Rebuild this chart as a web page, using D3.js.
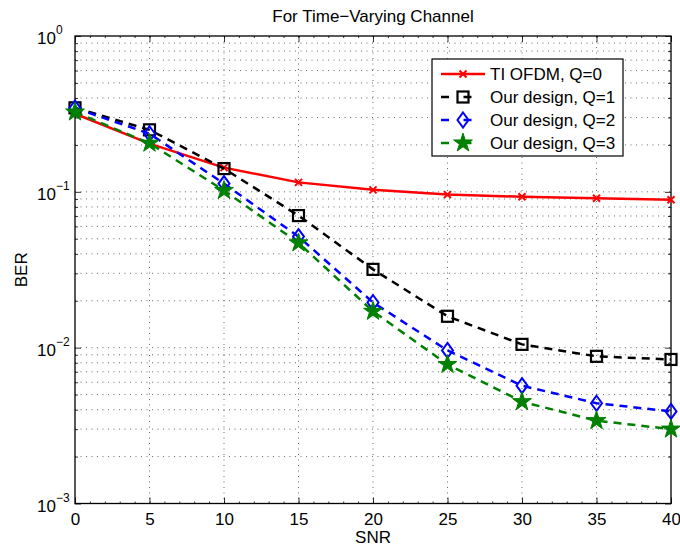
<!DOCTYPE html>
<html>
<head>
<meta charset="utf-8">
<script src="https://cdn.jsdelivr.net/npm/d3@7"></script>
<style>
  body { margin: 0; background: #fff; }
  svg { font-family: "Liberation Sans", Arial, sans-serif; }
</style>
</head>
<body>
<script>
// data
var snr = [0, 5, 10, 15, 20, 25, 30, 35, 40];
var berQ0 = [0.317, 0.204, 0.143, 0.115, 0.103, 0.096, 0.093, 0.091, 0.089];
var berQ1 = [0.346, 0.25, 0.141, 0.0704, 0.0318, 0.0159, 0.0105, 0.0088, 0.0084];
var berQ2 = [0.345, 0.236, 0.113, 0.0516, 0.0195, 0.0096, 0.0057, 0.0044, 0.0039];
var berQ3 = [0.325, 0.205, 0.102, 0.047, 0.0171, 0.0078, 0.0045, 0.0034, 0.0030];
var seriesNames = ["TI OFDM, Q=0", "Our design, Q=1", "Our design, Q=2", "Our design, Q=3"];
var xTicks = [0, 5, 10, 15, 20, 25, 30, 35, 40];
var yTickExp = [0, -1, -2, -3];

var W = 680, H = 548;
var margin = { top: 36, right: 9, bottom: 44.5, left: 75 },
    width = W - margin.left - margin.right,
    height = H - margin.top - margin.bottom;

var x = d3.scaleLinear().domain([0, 40]).range([0, width]);
var y = d3.scaleLog().domain([1e-3, 1]).range([height, 0]);

var svg = d3.select("body").append("svg")
    .attr("width", W)
    .attr("height", H);

var g = svg.append("g")
    .attr("transform", "translate(" + margin.left + "," + margin.top + ")");

// minor log values
var yMinor = [];
[1e-3, 1e-2, 1e-1].forEach(function (d) {
    for (var k = 2; k <= 9; k++) yMinor.push(d * k);
});
var yMajor = yTickExp.map(function (e) { return Math.pow(10, e); });

// grid
var grid = g.append("g").attr("stroke", "#444").attr("stroke-width", 0.8)
    .attr("stroke-dasharray", "1,4.5");
grid.selectAll(".gy")
    .data(yMajor.concat(yMinor).filter(function (d) { return d > 1e-3 && d < 1; }))
    .enter().append("line")
    .attr("x1", 0).attr("x2", width)
    .attr("y1", function (d) { return y(d); })
    .attr("y2", function (d) { return y(d); });
grid.selectAll(".gx")
    .data(xTicks.filter(function (d) { return d > 0 && d < 40; }))
    .enter().append("line")
    .attr("y1", 0).attr("y2", height)
    .attr("x1", function (d) { return x(d); })
    .attr("x2", function (d) { return x(d); });

// axes (inward ticks, box on)
var xMinor = d3.range(0, 41, 1);
g.append("g")
    .attr("transform", "translate(0," + height + ")")
    .call(d3.axisBottom(x).tickValues(xMinor).tickSize(-2).tickFormat(""))
    .call(function (a) { a.select(".domain").remove(); });
g.append("g")
    .call(d3.axisTop(x).tickValues(xMinor).tickSize(-2).tickFormat(""))
    .call(function (a) { a.select(".domain").remove(); });
g.append("g")
    .attr("transform", "translate(0," + height + ")")
    .call(d3.axisBottom(x).tickValues(xTicks).tickSize(-6).tickPadding(9))
    .call(function (a) {
        a.select(".domain").remove();
        a.selectAll("text").attr("font-size", 17).attr("fill", "#000")
            .attr("font-family", "Liberation Sans, Arial, sans-serif");
    });
g.append("g")
    .call(d3.axisTop(x).tickValues(xTicks).tickSize(-6).tickFormat(""))
    .call(function (a) { a.select(".domain").remove(); });

g.append("g")
    .call(d3.axisLeft(y).tickValues(yMinor).tickSize(-3).tickFormat(""))
    .call(function (a) { a.select(".domain").remove(); });
g.append("g")
    .attr("transform", "translate(" + width + ",0)")
    .call(d3.axisRight(y).tickValues(yMinor).tickSize(-3).tickFormat(""))
    .call(function (a) { a.select(".domain").remove(); });
var yAx = g.append("g")
    .call(d3.axisLeft(y).tickValues(yMajor).tickSize(-6).tickFormat(""))
    .call(function (a) { a.select(".domain").remove(); });
g.append("g")
    .attr("transform", "translate(" + width + ",0)")
    .call(d3.axisRight(y).tickValues(yMajor).tickSize(-6).tickFormat(""))
    .call(function (a) { a.select(".domain").remove(); });

// y tick labels 10^e
yAx.selectAll(".ylab")
    .data(yTickExp)
    .enter().append("text")
    .attr("x", -19)
    .attr("y", function (e) { return y(Math.pow(10, e)) + 8; })
    .attr("text-anchor", "end")
    .attr("font-size", 17)
    .attr("fill", "#000")
    .attr("font-family", "Liberation Sans, Arial, sans-serif")
    .text("10");
yAx.selectAll(".yexp")
    .data(yTickExp)
    .enter().append("text")
    .attr("x", -19)
    .attr("y", function (e) { return y(Math.pow(10, e)) - 2; })
    .attr("text-anchor", "start")
    .attr("font-size", 12)
    .attr("fill", "#000")
    .attr("font-family", "Liberation Sans, Arial, sans-serif")
    .text(function (e) { return e === 0 ? "0" : "\u2212" + (-e); });

g.selectAll(".tick line").attr("stroke", "#000").attr("stroke-width", 0.8);

// frame
g.append("rect")
    .attr("width", width).attr("height", height)
    .attr("fill", "none").attr("stroke", "#000").attr("stroke-width", 1.3);

// series
var series = [
    { name: seriesNames[0], values: berQ0, color: "#ff0000", dash: null, marker: "x" },
    { name: seriesNames[1], values: berQ1, color: "#000000", dash: "8,6", marker: "square" },
    { name: seriesNames[2], values: berQ2, color: "#0000ff", dash: "8,6", marker: "diamond" },
    { name: seriesNames[3], values: berQ3, color: "#008000", dash: "8,6", marker: "star" }
];

var line = d3.line()
    .x(function (d) { return x(d[0]); })
    .y(function (d) { return y(d[1]); });

function drawMarker(sel, s) {
    if (s.marker === "x") {
        sel.append("path").attr("d", "M-3.5,-3.5L3.5,3.5M-3.5,3.5L3.5,-3.5")
            .attr("stroke", s.color).attr("stroke-width", 2).attr("fill", "none");
    } else if (s.marker === "square") {
        sel.append("rect").attr("x", -5.5).attr("y", -5.5).attr("width", 11).attr("height", 11)
            .attr("stroke", s.color).attr("stroke-width", 2.2).attr("fill", "none");
    } else if (s.marker === "diamond") {
        sel.append("path").attr("d", "M0,-7.5L5.5,0L0,7.5L-5.5,0Z")
            .attr("stroke", s.color).attr("stroke-width", 2).attr("fill", "none");
    } else {
        sel.append("path").attr("d", d3.symbol(d3.symbolStar, 110)())
            .attr("stroke", s.color).attr("stroke-width", 1).attr("fill", s.color);
    }
}

series.forEach(function (s) {
    var pts = snr.map(function (v, i) { return [v, s.values[i]]; });
    g.append("path")
        .datum(pts)
        .attr("fill", "none")
        .attr("stroke", s.color)
        .attr("stroke-width", 2.5)
        .attr("stroke-dasharray", s.dash)
        .attr("d", line);
    g.selectAll(null)
        .data(pts)
        .enter().append("g")
        .attr("transform", function (d) { return "translate(" + x(d[0]) + "," + y(d[1]) + ")"; })
        .each(function () { drawMarker(d3.select(this), s); });
});

// legend
var lg = svg.append("g").attr("transform", "translate(432,59)");
lg.append("rect").attr("width", 191).attr("height", 97)
    .attr("fill", "#fff").attr("stroke", "#000").attr("stroke-width", 1.2);
series.forEach(function (s, i) {
    var row = lg.append("g").attr("transform", "translate(0," + (15 + i * 23) + ")");
    row.append("line").attr("x1", 9).attr("x2", 53).attr("y1", 0).attr("y2", 0)
        .attr("stroke", s.color).attr("stroke-width", 2.5)
        .attr("stroke-dasharray", s.dash ? "8,14.5" : null);
    drawMarker(row.append("g").attr("transform", "translate(31,0)"), s);
    row.append("text").attr("x", 58).attr("y", 6)
        .attr("font-size", 17).attr("fill", "#000")
        .text(s.name);
});

// title and labels
svg.append("text").attr("x", margin.left + width / 2).attr("y", 22)
    .attr("text-anchor", "middle").attr("font-size", 17).text("For Time\u2212Varying Channel");
svg.append("text").attr("x", margin.left + width / 2).attr("y", 543)
    .attr("text-anchor", "middle").attr("font-size", 17).text("SNR");
svg.append("text").attr("transform", "translate(27," + (margin.top + height / 2) + ") rotate(-90)")
    .attr("text-anchor", "middle").attr("font-size", 17).text("BER");
</script>
</body>
</html>
